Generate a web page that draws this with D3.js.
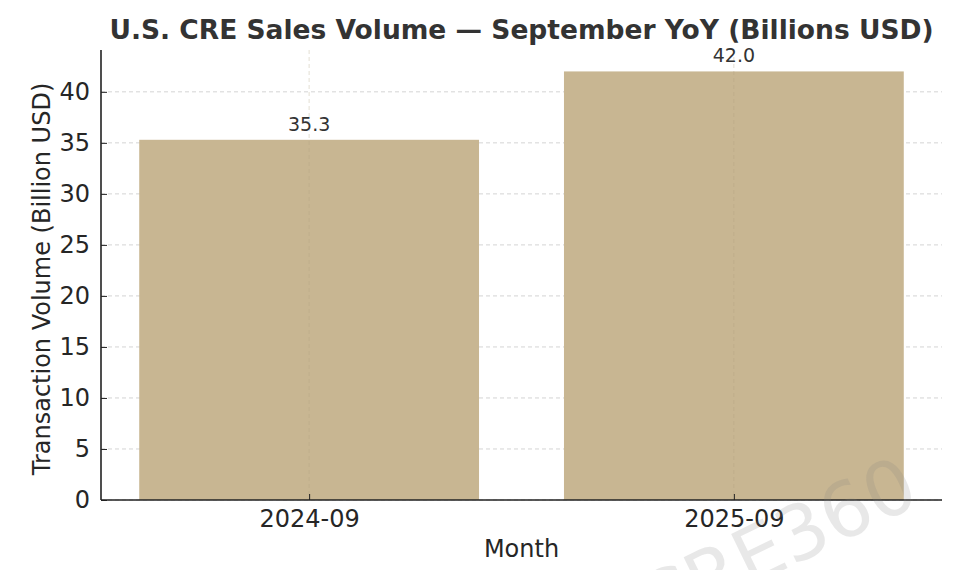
<!DOCTYPE html>
<html>
<head>
<meta charset="utf-8">
<script src="https://cdn.jsdelivr.net/npm/d3@7"></script>
<style>
  body { margin: 0; background: #fff; }
  svg { display: block; font-family: "DejaVu Sans", sans-serif; }
</style>
</head>
<body>
<svg id="chart" width="965" height="570"></svg>
<script>
// dati
const months = ['2024-09', '2025-09']
const volumes = [35.3, 42.0]
const yTicks = [0, 5, 10, 15, 20, 25, 30, 35, 40]

const titleText = 'U.S. CRE Sales Volume \u2014 September YoY (Billions USD)'
const xLabel = 'Month'
const yLabel = 'Transaction Volume (Billion USD)'
const watermark = 'CRE360'

const barColor = '#c8b692'
const textColor = '#262626'

const svg = d3.select('#chart')

// area del grafico
const plotLeft = 101, plotRight = 942, plotTop = 50, plotBottom = 500

// scala x come in matplotlib: barre a 0 e 1, larghezza 0.8
const xScale = d3.scaleLinear()
  .domain([-0.49, months.length - 1 + 0.49])
  .range([plotLeft, plotRight])
const barW = 0.8

const yScale = d3.scaleLinear()
  .domain([0, d3.max(volumes) * 1.05])
  .range([plotBottom, plotTop])

// griglia orizzontale
svg.append('g')
  .selectAll('line')
  .data(yTicks)
  .join('line')
  .attr('x1', plotLeft).attr('x2', plotRight)
  .attr('y1', d => yScale(d)).attr('y2', d => yScale(d))
  .attr('stroke', '#d4d4d4')
  .attr('stroke-width', 1)
  .attr('stroke-dasharray', '4,3')

// barre
svg.append('g')
  .selectAll('rect')
  .data(volumes)
  .join('rect')
  .attr('x', (d, i) => xScale(i - barW / 2))
  .attr('width', (d, i) => xScale(i + barW / 2) - xScale(i - barW / 2))
  .attr('y', d => yScale(d))
  .attr('height', d => plotBottom - yScale(d))
  .attr('fill', barColor)

// griglia verticale (sopra le barre, molto leggera)
svg.append('g')
  .selectAll('line')
  .data(months)
  .join('line')
  .attr('x1', (d, i) => xScale(i)).attr('x2', (d, i) => xScale(i))
  .attr('y1', plotTop).attr('y2', plotBottom)
  .attr('stroke', '#b0a080')
  .attr('stroke-opacity', 0.35)
  .attr('stroke-width', 1)
  .attr('stroke-dasharray', '4,3')

// etichette valori
svg.append('g')
  .selectAll('text')
  .data(volumes)
  .join('text')
  .attr('x', (d, i) => xScale(i))
  .attr('y', d => yScale(d) - 9)
  .attr('text-anchor', 'middle')
  .attr('font-size', 19)
  .attr('fill', '#333')
  .text(d => d.toFixed(1))

// asse y
const yAxis = svg.append('g')
  .attr('transform', `translate(${plotLeft},0)`)
  .call(d3.axisLeft(yScale).tickValues(yTicks).tickSize(-6).tickPadding(11))
yAxis.select('.domain').attr('stroke', '#222').attr('stroke-width', 1.6)
  .attr('d', `M0,${plotBottom}V${plotTop}`)
yAxis.selectAll('.tick line').attr('stroke', '#222')
yAxis.selectAll('.tick text')
  .attr('font-size', 24)
  .attr('font-family', '"DejaVu Sans", sans-serif')
  .attr('fill', textColor)

// asse x
const xAxis = svg.append('g')
  .attr('transform', `translate(0,${plotBottom})`)
  .call(d3.axisBottom(xScale).tickValues(months.map((d, i) => i))
    .tickFormat(i => months[i]).tickSize(-6).tickPadding(10))
xAxis.select('.domain').attr('stroke', '#222').attr('stroke-width', 1.6)
  .attr('d', `M${plotLeft},0H${plotRight}`)
xAxis.selectAll('.tick line').attr('stroke', '#222')
xAxis.selectAll('.tick text')
  .attr('font-size', 24)
  .attr('font-family', '"DejaVu Sans", sans-serif')
  .attr('fill', textColor)

// titolo
svg.append('text')
  .attr('x', (plotLeft + plotRight) / 2)
  .attr('y', 39)
  .attr('text-anchor', 'middle')
  .attr('font-size', 26.5)
  .attr('font-weight', 'bold')
  .attr('fill', '#333')
  .text(titleText)

// etichetta asse x
svg.append('text')
  .attr('x', (plotLeft + plotRight) / 2)
  .attr('y', 557)
  .attr('text-anchor', 'middle')
  .attr('font-size', 24)
  .attr('fill', textColor)
  .text(xLabel)

// etichetta asse y
svg.append('text')
  .attr('transform', 'translate(50,279) rotate(-90)')
  .attr('text-anchor', 'middle')
  .attr('font-size', 24)
  .attr('fill', textColor)
  .text(yLabel)

// filigrana
svg.append('text')
  .attr('transform', 'translate(788,568) rotate(-26)')
  .attr('text-anchor', 'middle')
  .attr('font-size', 76)
  .attr('fill', '#808080')
  .attr('fill-opacity', 0.18)
  .text(watermark)
</script>
</body>
</html>
